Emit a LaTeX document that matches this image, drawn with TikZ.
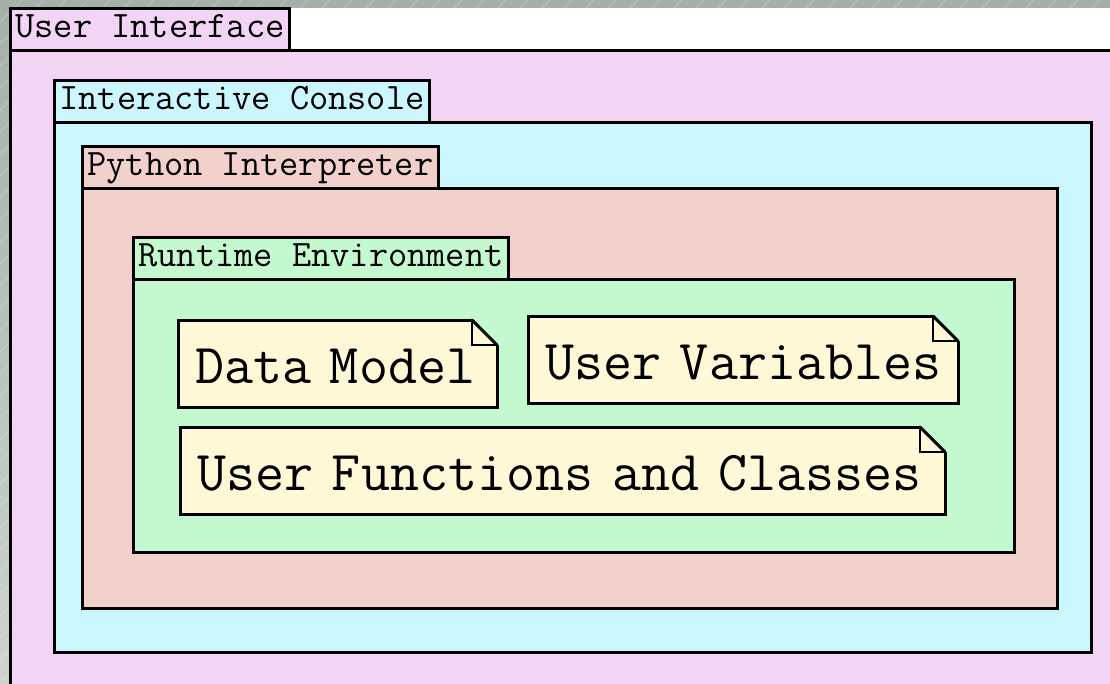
\documentclass[tikz,border=0pt]{standalone}
\usetikzlibrary{positioning}
\definecolor{uicol}{RGB}{242,212,244}
\definecolor{iccol}{RGB}{204,246,254}
\definecolor{picol}{RGB}{242,208,203}
\definecolor{recol}{RGB}{196,248,206}
\definecolor{notecol}{RGB}{255,248,214}
\definecolor{bgtop}{RGB}{166,176,168}
\definecolor{bgbot}{RGB}{204,212,204}
\tikzstyle{pkgbody} = [rectangle, draw, line width=3pt, anchor=north west,
  outer sep=0pt, inner sep=0pt]
\tikzstyle{pkgtab} = [rectangle, draw, line width=3pt, inner xsep=5.5pt,
  inner ysep=0pt, minimum height=42pt, text height=24pt, text depth=7pt,
  outer sep=0pt, font=\ttfamily\fontsize{37.3}{40}\selectfont]
\tikzstyle{note} = [rectangle, draw, fill=notecol, line width=3pt,
  anchor=north west, minimum height=87pt, inner xsep=17pt, inner ysep=0pt,
  text height=42pt, text depth=2pt, align=left, outer sep=0pt,
  font=\ttfamily\fontsize{56.4}{60}\selectfont]
\tikzstyle{fold} = [draw, line width=2pt]

\begin{document}
\begin{tikzpicture}[x=1pt, y=-1pt]
    \clip (0,0) rectangle (1110,683);
    \shade[top color=bgtop, bottom color=bgbot] (0,0) rectangle (1110,683);
    \foreach \k in {0,22,...,1800}
      \draw[white, opacity=0.3, line width=0.6pt] (\k,0) -- ++(-700,700);
    \fill[white] (10,8) rectangle (1110,50);

    % nested packages
    \node[pkgbody, fill=uicol, minimum width=1120pt, minimum height=660pt] (ui) at (10,50) {};
    \node[pkgtab, fill=uicol, above right=0pt of ui.north west] (uitab) {User Interface};

    \node[pkgbody, fill=iccol, minimum width=1037pt, minimum height=530pt] (ic) at (54,122) {};
    \node[pkgtab, fill=iccol, above right=0pt of ic.north west] (ictab) {Interactive Console};

    \node[pkgbody, fill=picol, minimum width=975pt, minimum height=420pt] (pi) at (82,188) {};
    \node[pkgtab, fill=picol, above right=0pt of pi.north west] (pitab) {Python Interpreter};

    \node[pkgbody, fill=recol, minimum width=881pt, minimum height=273pt] (re) at (133,279) {};
    \node[pkgtab, fill=recol, above right=0pt of re.north west] (retab) {Runtime Environment};

    % notes
    \node[note, text width=285pt] (dm) at (178,320) {\mbox{Data Model}};
    \node[note, text width=396pt] (uv) at (528,316) {\mbox{User Variables}};
    \node[note, text width=731pt] (uf) at (180,427) {\mbox{User Functions and Classes}};

    % dog-eared corners
    \foreach \n in {dm,uv,uf} {
      \fill[recol] ([xshift=-25pt,yshift=2.5pt]\n.north east) -- ([xshift=2.5pt,yshift=2.5pt]\n.north east)
        -- ([xshift=2.5pt,yshift=-25pt]\n.north east) -- ([yshift=-25pt]\n.north east)
        -- ([xshift=-25pt]\n.north east) -- cycle;
      \draw[line width=3pt, line cap=round] ([xshift=-25pt]\n.north east) -- ([yshift=-25pt]\n.north east);
      \path[fold] ([xshift=-25pt]\n.north east) -- ([xshift=-25pt,yshift=-25pt]\n.north east)
        -- ([yshift=-25pt]\n.north east);
    }
\end{tikzpicture}
\end{document}
